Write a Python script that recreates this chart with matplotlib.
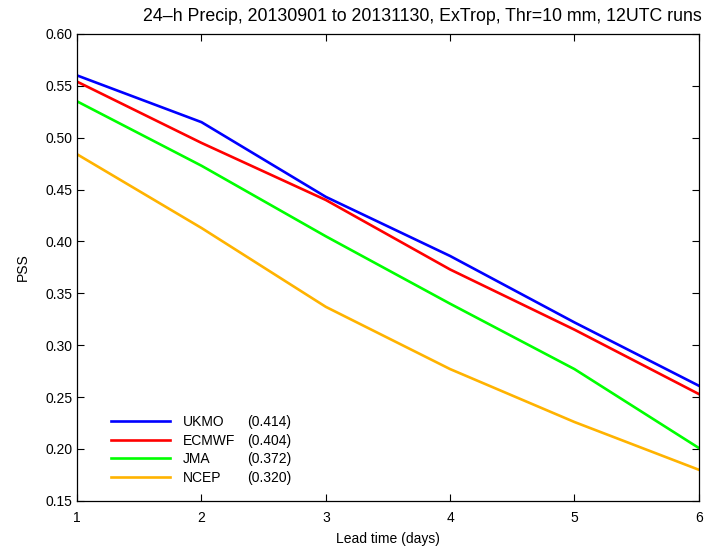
import matplotlib
matplotlib.use("Agg")
import matplotlib.pyplot as plt

plt.rcParams['font.family'] = ['Liberation Sans', 'DejaVu Sans']

lead_days = [1, 2, 3, 4, 5, 6]
models = ['UKMO', 'ECMWF', 'JMA', 'NCEP']
means = ['(0.414)', '(0.404)', '(0.372)', '(0.320)']
colors = ['#0000ff', '#ff0000', '#00ff00', '#ffb300']

ukmo = [0.560, 0.515, 0.443, 0.386, 0.322, 0.261]
ecmwf = [0.554, 0.495, 0.440, 0.373, 0.315, 0.253]
jma = [0.535, 0.473, 0.405, 0.340, 0.277, 0.201]
ncep = [0.484, 0.413, 0.337, 0.277, 0.226, 0.180]
series = [ukmo, ecmwf, jma, ncep]

yticks = [0.15, 0.20, 0.25, 0.30, 0.35, 0.40, 0.45, 0.50, 0.55, 0.60]

fig = plt.figure(figsize=(7.08, 5.48), dpi=100)
ax = fig.add_axes([0.109, 0.086, 0.878, 0.852])

for name, vals, c in zip(models, series, colors):
    ax.plot(lead_days, vals, color=c, lw=1.9, label=name)

ax.set_xlim(1, 6)
ax.set_ylim(0.15, 0.60)
ax.set_xticks(lead_days)
ax.set_yticks(yticks)
ax.set_yticklabels(['%.2f' % v for v in yticks])
ax.tick_params(direction='in', top=True, right=True, length=5, labelsize=10)
ax.tick_params(axis='x', pad=7)
for s in ax.spines.values():
    s.set_linewidth(0.9)

ax.set_xlabel('Lead time (days)', fontsize=10, labelpad=5)
ax.set_ylabel('PSS', fontsize=10, labelpad=11)
ax.set_title('24\u2013h Precip, 20130901 to 20131130, ExTrop, Thr=10 mm, 12UTC runs',
             fontsize=12.8, pad=9, x=0.555)

leg = ax.legend(loc='lower left', bbox_to_anchor=(0.054, 0.035), frameon=False,
                fontsize=10, handlelength=4.3, handletextpad=0.9,
                labelspacing=0.32, borderpad=0, borderaxespad=0)
fig.canvas.draw()
for txt, m in zip(leg.get_texts(), means):
    ax.annotate(m, xy=(0, 0), xycoords=txt, xytext=(46, 0),
                textcoords='offset points', fontsize=10, va='bottom', ha='left')

fig.savefig('out.png', dpi=100)
